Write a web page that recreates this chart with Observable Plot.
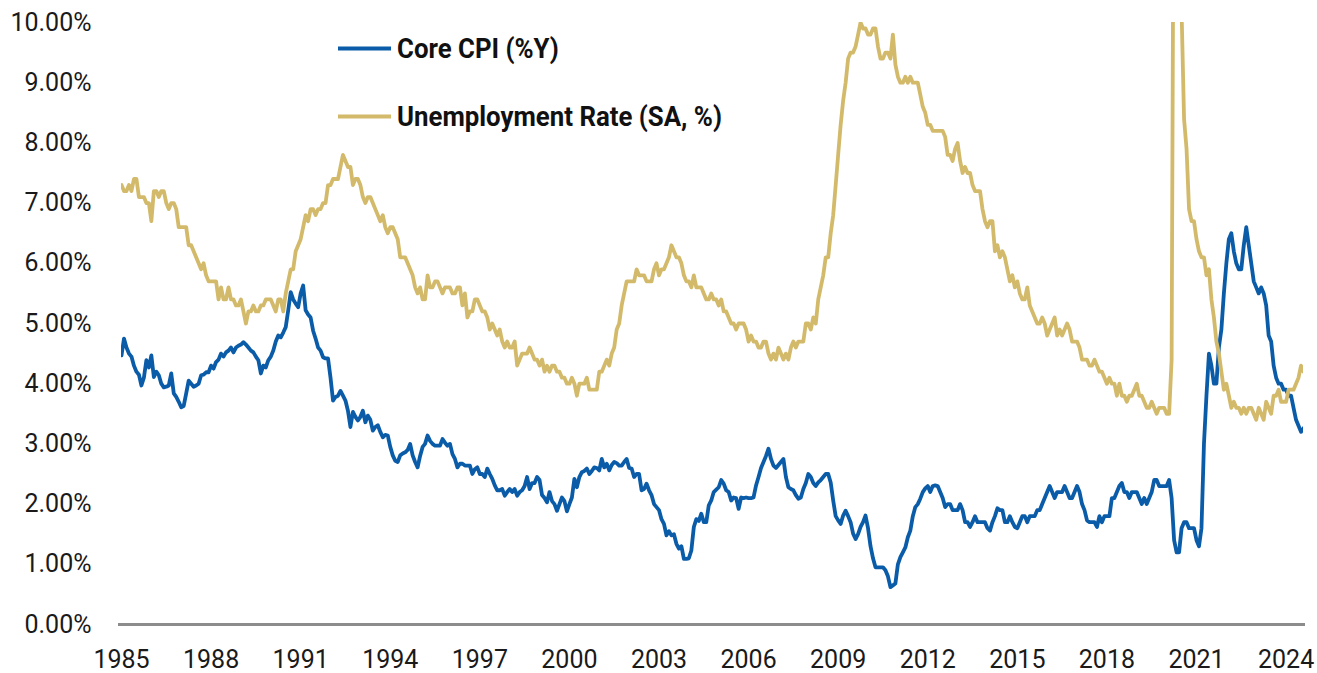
<!DOCTYPE html>
<html><head><meta charset="utf-8">
<script src="https://cdn.jsdelivr.net/npm/d3@7"></script>
<script src="https://cdn.jsdelivr.net/npm/@observablehq/plot@0.6"></script>
<style>
html,body{margin:0;padding:0;background:#fff;}
#wrap{position:relative;width:1317px;height:673px;font-family:Roboto,"Noto Sans",sans-serif;overflow:hidden;}
.lg{position:absolute;left:338px;display:flex;align-items:center;transform:translateY(-50%);white-space:nowrap;}
.sw{display:inline-block;width:53px;height:4px;margin-right:6px;}
.tx{display:inline-block;font-weight:700;font-size:28px;color:#111;transform-origin:left center;}
</style></head><body><div id="wrap"></div>
<script>
const startYear = 1985;
// Core CPI, % year over year, monthly from Jan 1985
const cpi = [
  4.47,4.75,4.6,4.5,4.45,4.3,4.2,4.15,3.97,4.1,4.39,4.27,
  4.47,4.11,4.2,4.14,4.0,3.94,3.95,3.97,4.17,3.84,3.78,3.7,
  3.61,3.63,3.84,4.05,4.0,3.95,3.97,4.0,4.14,4.15,4.19,4.19,
  4.3,4.25,4.36,4.4,4.5,4.45,4.52,4.55,4.6,4.52,4.6,4.63,
  4.65,4.69,4.65,4.6,4.55,4.52,4.45,4.39,4.17,4.3,4.27,4.39,
  4.45,4.55,4.7,4.8,4.77,4.85,4.94,5.22,5.52,5.4,5.33,5.27,
  5.5,5.63,5.22,5.15,5.1,4.88,4.75,4.6,4.55,4.44,4.42,4.42,
  4.1,3.72,3.78,3.8,3.88,3.8,3.72,3.55,3.28,3.53,3.45,3.39,
  3.45,3.55,3.36,3.47,3.4,3.22,3.28,3.31,3.2,3.11,3.15,3.14,
  2.95,2.81,2.72,2.7,2.81,2.84,2.86,2.9,3.0,2.81,2.7,2.61,
  2.8,2.95,3.0,3.14,3.05,3.0,2.97,2.97,2.97,3.08,3.02,2.97,
  3.0,2.83,2.75,2.61,2.67,2.67,2.64,2.64,2.64,2.5,2.58,2.61,
  2.5,2.5,2.45,2.59,2.5,2.42,2.31,2.23,2.23,2.25,2.14,2.2,
  2.25,2.2,2.25,2.14,2.2,2.23,2.3,2.45,2.25,2.35,2.35,2.45,
  2.4,2.15,2.1,2.03,2.2,2.05,2.0,1.89,2.0,2.11,2.05,1.88,
  2.0,2.11,2.42,2.28,2.45,2.53,2.55,2.59,2.5,2.55,2.61,2.6,
  2.56,2.75,2.61,2.67,2.56,2.65,2.7,2.68,2.64,2.64,2.7,2.75,
  2.6,2.59,2.45,2.5,2.5,2.23,2.25,2.34,2.23,2.15,2.0,1.95,
  1.9,1.75,1.67,1.48,1.55,1.48,1.5,1.34,1.26,1.3,1.09,1.09,
  1.1,1.23,1.62,1.75,1.72,1.84,1.7,1.7,1.98,2.06,2.2,2.24,
  2.28,2.4,2.34,2.23,2.2,2.06,2.11,2.1,1.92,2.11,2.1,2.11,
  2.1,2.1,2.11,2.31,2.45,2.6,2.7,2.8,2.92,2.75,2.64,2.6,
  2.65,2.7,2.75,2.45,2.28,2.25,2.23,2.15,2.09,2.11,2.25,2.35,
  2.5,2.45,2.35,2.3,2.36,2.4,2.45,2.5,2.5,2.36,2.06,1.8,
  1.73,1.67,1.81,1.89,1.8,1.7,1.51,1.42,1.5,1.62,1.7,1.81,
  1.6,1.3,1.1,0.95,0.95,0.95,0.95,0.9,0.8,0.62,0.65,0.68,
  1.0,1.12,1.2,1.28,1.45,1.56,1.8,1.95,2.0,2.09,2.2,2.26,
  2.3,2.2,2.3,2.31,2.3,2.2,2.1,1.95,2.0,2.0,1.9,1.9,
  1.9,2.0,1.9,1.7,1.7,1.62,1.7,1.8,1.7,1.7,1.7,1.7,
  1.6,1.56,1.7,1.8,1.93,1.9,1.9,1.7,1.7,1.8,1.7,1.62,
  1.6,1.7,1.8,1.8,1.7,1.8,1.8,1.8,1.9,1.9,2.0,2.1,
  2.2,2.3,2.2,2.1,2.2,2.2,2.2,2.3,2.2,2.1,2.1,2.2,
  2.3,2.2,2.0,1.9,1.73,1.7,1.7,1.7,1.62,1.8,1.7,1.8,
  1.8,1.8,2.1,2.1,2.2,2.3,2.35,2.2,2.2,2.1,2.2,2.2,
  2.2,2.1,2.0,2.1,2.0,2.1,2.2,2.4,2.4,2.3,2.3,2.3,
  2.3,2.4,2.1,1.4,1.2,1.2,1.6,1.7,1.7,1.6,1.6,1.6,
  1.4,1.3,1.6,3.0,3.8,4.5,4.3,4.0,4.0,4.6,4.9,5.5,
  6.0,6.4,6.5,6.2,6.0,5.9,5.9,6.3,6.6,6.3,6.0,5.7,
  5.6,5.5,5.6,5.5,5.3,4.8,4.7,4.3,4.1,4.0,4.0,3.9,
  3.9,3.8,3.8,3.6,3.4,3.3,3.2,3.26
];
// Unemployment rate, SA %, monthly from Jan 1985
const unemp = [
  7.3,7.2,7.2,7.3,7.2,7.4,7.4,7.1,7.1,7.1,7.0,7.0,
  6.7,7.2,7.2,7.1,7.2,7.2,7.0,6.9,7.0,7.0,6.9,6.6,
  6.6,6.6,6.6,6.3,6.3,6.2,6.1,6.0,5.9,6.0,5.8,5.7,
  5.7,5.7,5.7,5.4,5.6,5.4,5.4,5.6,5.4,5.4,5.3,5.3,
  5.4,5.2,5.0,5.2,5.2,5.3,5.2,5.2,5.3,5.3,5.4,5.4,
  5.4,5.3,5.2,5.4,5.4,5.2,5.5,5.7,5.9,5.9,6.2,6.3,
  6.4,6.6,6.8,6.7,6.9,6.9,6.8,6.9,6.9,7.0,7.0,7.3,
  7.3,7.4,7.4,7.4,7.6,7.8,7.7,7.6,7.6,7.3,7.4,7.4,
  7.3,7.1,7.0,7.1,7.1,7.0,6.9,6.8,6.7,6.8,6.6,6.5,
  6.6,6.6,6.5,6.4,6.1,6.1,6.1,6.0,5.9,5.8,5.6,5.5,
  5.6,5.4,5.4,5.8,5.6,5.6,5.7,5.7,5.6,5.5,5.6,5.6,
  5.6,5.5,5.5,5.6,5.6,5.3,5.5,5.1,5.2,5.2,5.4,5.4,
  5.3,5.2,5.2,5.1,4.9,5.0,4.9,4.8,4.9,4.7,4.6,4.7,
  4.6,4.6,4.7,4.3,4.4,4.5,4.5,4.5,4.6,4.5,4.4,4.4,
  4.3,4.4,4.2,4.3,4.2,4.3,4.3,4.2,4.2,4.1,4.1,4.0,
  4.0,4.1,4.0,3.8,4.0,4.0,4.0,4.1,3.9,3.9,3.9,3.9,
  4.2,4.2,4.3,4.4,4.3,4.5,4.6,4.9,5.0,5.3,5.5,5.7,
  5.7,5.7,5.7,5.9,5.8,5.8,5.8,5.7,5.7,5.7,5.9,6.0,
  5.8,5.9,5.9,6.0,6.1,6.3,6.2,6.1,6.1,6.0,5.8,5.7,
  5.7,5.6,5.8,5.6,5.6,5.6,5.5,5.4,5.4,5.5,5.4,5.4,
  5.3,5.4,5.2,5.2,5.1,5.0,5.0,4.9,5.0,5.0,5.0,4.9,
  4.7,4.8,4.7,4.7,4.6,4.6,4.7,4.7,4.5,4.4,4.5,4.4,
  4.6,4.5,4.4,4.5,4.4,4.6,4.7,4.6,4.7,4.7,4.7,5.0,
  5.0,4.9,5.1,5.0,5.4,5.6,5.8,6.1,6.1,6.5,6.8,7.3,
  7.8,8.3,8.7,9.0,9.4,9.5,9.5,9.6,9.8,10.0,9.9,9.9,
  9.8,9.8,9.9,9.9,9.6,9.4,9.4,9.5,9.5,9.4,9.8,9.3,
  9.1,9.0,9.0,9.1,9.0,9.1,9.0,9.0,9.0,8.8,8.6,8.5,
  8.3,8.3,8.2,8.2,8.2,8.2,8.2,8.1,7.8,7.8,7.7,7.9,
  8.0,7.7,7.5,7.6,7.5,7.5,7.3,7.2,7.2,7.2,6.9,6.7,
  6.6,6.7,6.7,6.2,6.3,6.1,6.2,6.1,5.9,5.7,5.8,5.6,
  5.7,5.5,5.4,5.4,5.6,5.3,5.2,5.1,5.0,5.0,5.1,5.0,
  4.8,4.9,5.0,5.1,4.8,4.9,4.8,4.9,5.0,4.9,4.7,4.7,
  4.7,4.6,4.4,4.4,4.4,4.3,4.3,4.4,4.3,4.2,4.2,4.1,
  4.0,4.1,4.0,4.0,3.8,4.0,3.8,3.8,3.7,3.8,3.8,3.9,
  4.0,3.8,3.8,3.7,3.6,3.6,3.7,3.6,3.5,3.6,3.6,3.6,
  3.5,3.5,4.4,14.8,13.2,11.0,10.2,8.4,7.9,6.9,6.7,6.7,
  6.4,6.2,6.1,6.1,5.8,5.9,5.4,5.1,4.7,4.5,4.2,3.9,
  4.0,3.8,3.6,3.7,3.6,3.6,3.5,3.6,3.5,3.6,3.6,3.5,
  3.4,3.6,3.5,3.4,3.7,3.6,3.5,3.8,3.8,3.9,3.7,3.7,
  3.7,3.9,3.9,3.9,4.0,4.1,4.3,4.2
];
const xTicks = [1985,1988,1991,1994,1997,2000,2003,2006,2009,2012,2015,2018,2021,2024];
const yTicks = [0,1,2,3,4,5,6,7,8,9,10];
const seriesNames = ["Core CPI (%Y)", "Unemployment Rate (SA, %)"];
const seriesColors = ["#0A5CA8", "#D3BA6B"];

const toRows = (vals) => vals.map((v, i) => ({t: startYear + i / 12, v}));
const cpiRows = toRows(cpi);
const unempRows = toRows(unemp);
const lastT = startYear + (cpi.length - 1) / 12;

const chart = Plot.plot({
  width: 1317, height: 673,
  marginTop: 22, marginBottom: 49, marginLeft: 121, marginRight: 14,
  style: {fontFamily: "Roboto, sans-serif", fontSize: "25px", color: "#1a1a1a", background: "#fff"},
  x: {domain: [startYear, lastT], ticks: xTicks, tickFormat: d => String(d), tickSize: 0, tickPadding: 26, label: null},
  y: {domain: [0, 10], ticks: yTicks, tickFormat: d => d.toFixed(2) + "%", tickSize: 0, tickPadding: 30, label: null},
  marks: [
    Plot.ruleY([0], {stroke: "#8c8c8c", strokeWidth: 3, insetLeft: -3, insetRight: -2}),
    Plot.line(cpiRows, {x: "t", y: "v", stroke: seriesColors[0], strokeWidth: 3.8, clip: true}),
    Plot.line(unempRows, {x: "t", y: "v", stroke: seriesColors[1], strokeWidth: 3.8, clip: true})
  ]
});
const wrap = document.getElementById("wrap");
wrap.appendChild(chart);

const legendTops = [48, 116];
const spans = [];
seriesNames.forEach((name, i) => {
  const d = document.createElement("div");
  d.className = "lg";
  d.style.top = legendTops[i] + "px";
  const sw = document.createElement("span");
  sw.className = "sw";
  sw.style.background = seriesColors[i];
  const tx = document.createElement("span");
  tx.className = "tx";
  tx.textContent = name;
  d.appendChild(sw); d.appendChild(tx);
  wrap.appendChild(d);
  spans.push(tx);
});
// condense legend text to match the narrow reference face
const target = 325;
const w = spans[1].getBoundingClientRect().width;
if (w > 0) {
  const s = target / w;
  spans.forEach(sp => sp.style.transform = `scaleX(${s})`);
}
</script>
</body></html>
